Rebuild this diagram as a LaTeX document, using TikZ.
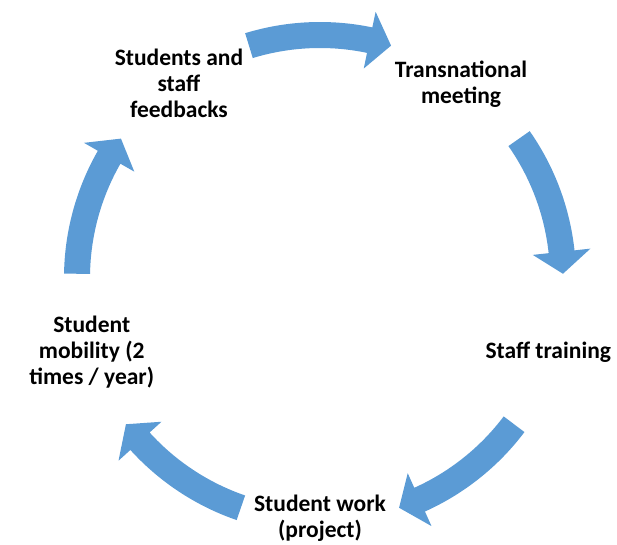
\documentclass[tikz,border=0pt]{standalone}
\usepackage{fontspec}
\setmainfont{Carlito}
\usepackage{tikz}
\definecolor{cyclearrow}{RGB}{91,155,213}

\begin{document}
\begin{tikzpicture}[x=1pt,y=1pt,
	step label/.style={font=\fontsize{23.5}{26}\selectfont\bfseries,align=center,inner sep=0pt}]
	\useasboundingbox (-320,-266) rectangle (297,278);

	% the five stages round the circle
	\node[step label] (feedback) at (126:240) {Students and\\staff\\feedbacks};
	\node[step label] (meeting)  at (54:240)  {Transnational\\meeting};
	\node[step label] (training) at (-18:240) {Staff training};
	\node[step label] (work)     at (-90:240) {Student work\\(project)};
	\node[step label] (mobility) at (198:240) {Student\\mobility (2\\times / year)};

	% curved block arrows between the stages, clockwise
	\foreach \mid in {90,18,-54,-126,162}{
		\fill[cyclearrow] (\mid+17:256) arc[start angle=\mid+17,end angle=\mid-11.8,radius=256]
			-- (\mid-11.8:272) -- (\mid-17:243) -- (\mid-11.8:214)
			-- (\mid-11.8:230) arc[start angle=\mid-11.8,end angle=\mid+17,radius=230] -- cycle;
	}
\end{tikzpicture}
\end{document}
